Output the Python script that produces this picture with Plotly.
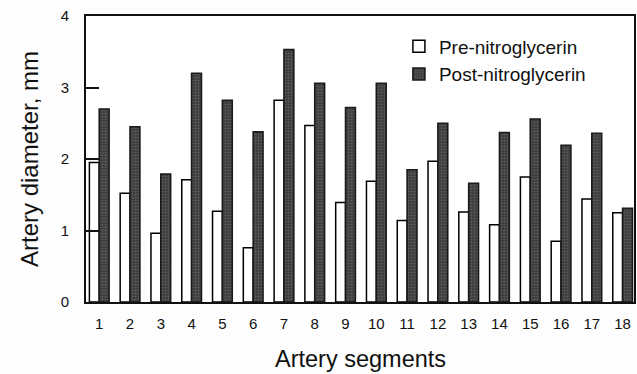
import plotly.graph_objects as go

segments = [str(i) for i in range(1, 19)]
pre_ntg = [1.95, 1.52, 0.96, 1.71, 1.27, 0.76, 2.82, 2.47, 1.39, 1.69, 1.14, 1.97, 1.26, 1.08, 1.75, 0.85, 1.44, 1.25]
post_ntg = [2.70, 2.45, 1.79, 3.20, 2.82, 2.38, 3.53, 3.06, 2.72, 3.06, 1.85, 2.50, 1.66, 2.37, 2.56, 2.19, 2.36, 1.31]
y_ticks = [0, 1, 2, 3, 4]

x_pos = list(range(1, 19))

fig = go.Figure()
fig.add_trace(go.Bar(
    x=x_pos, y=pre_ntg, name="Pre-nitroglycerin",
    marker=dict(color="white", line=dict(color="black", width=1.5)),
))
fig.add_trace(go.Bar(
    x=x_pos, y=post_ntg, name="Post-nitroglycerin",
    marker=dict(color="#505050", line=dict(color="#1a1a1a", width=1.6),
                pattern=dict(shape=".", fgcolor="#777777", bgcolor="#3c3c3c", size=3, solidity=0.4)),
))

font_family = "Liberation Sans, Arial, Helvetica, sans-serif"

fig.update_layout(
    width=637, height=374,
    margin=dict(l=86, r=3, t=16, b=72),
    paper_bgcolor="#fdfdfd",
    plot_bgcolor="#ffffff",
    barmode="group",
    bargap=0.36,
    bargroupgap=0,
    font=dict(family=font_family, color="#111111"),
    legend=dict(
        x=0.571, y=0.96, xanchor="left", yanchor="top",
        bgcolor="rgba(0,0,0,0)",
        font=dict(size=19, color="#111111"),
        tracegroupgap=0, itemwidth=30,
    ),
    xaxis=dict(
        automargin=False,
        range=[0.57, 18.37],
        tickmode="array", tickvals=x_pos, ticktext=segments,
        ticks="", showgrid=False, zeroline=False,
        showline=True, linecolor="#111111", linewidth=2, mirror=True,
        tickfont=dict(size=15),
        ticklabelstandoff=7,
    ),
    yaxis=dict(
        automargin=False,
        range=[0, 4],
        tickmode="array", tickvals=y_ticks, ticktext=[str(v) for v in y_ticks],
        ticks="inside", ticklen=13, tickwidth=2, tickcolor="#111111",
        showgrid=False, zeroline=False,
        showline=True, linecolor="#111111", linewidth=2, mirror=True,
        tickfont=dict(size=15),
        ticklabelstandoff=12,
    ),
    annotations=[
        dict(text="Artery segments", xref="paper", yref="paper",
             x=0.5, y=-0.2, xanchor="center", yanchor="middle",
             showarrow=False, font=dict(size=23.5)),
        dict(text="Artery diameter, mm", xref="paper", yref="paper",
             x=-0.104, y=0.5, xanchor="center", yanchor="middle",
             textangle=-90, showarrow=False, font=dict(size=24)),
    ],
)

fig.write_html("out.html", config={"displayModeBar": False},
               post_script="document.body.style.margin='0';")
